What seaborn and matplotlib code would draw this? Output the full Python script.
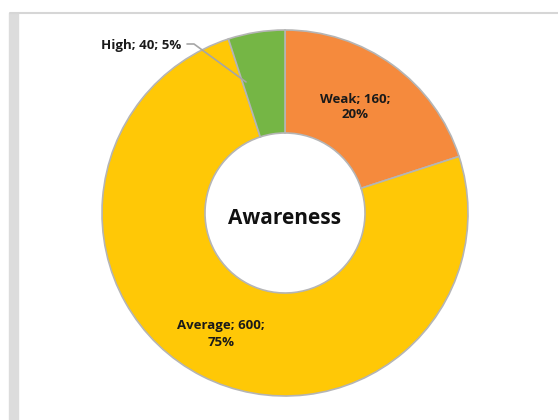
import matplotlib
matplotlib.use("Agg")
import matplotlib.pyplot as plt
from matplotlib.patches import Rectangle
import seaborn as sns

categories = ["Weak", "Average", "High"]
values = [160, 600, 40]
percents = ["20%", "75%", "5%"]
colors = ["#F58A3D", "#FFC806", "#75B645"]

sns.set_theme(style="white")
plt.rcParams["font.family"] = ["Open Sans", "DejaVu Sans"]

W, H = 558, 420
fig = plt.figure(figsize=(W / 100, H / 100), dpi=100)
ax = fig.add_axes([0, 0, 1, 1])

# chart area frame with a shaded left edge
ax.add_patch(Rectangle((9, 0), 9, H - 13, color="#dcdcdc", zorder=0))
ax.plot([10, W], [H - 13, H - 13], color="#d6d6d6", lw=1.5, zorder=0)

cx, cy, r_out, ring = 285, 207, 183, 103
wedges, _ = ax.pie(
    values,
    colors=colors,
    startangle=90,
    counterclock=False,
    center=(cx, cy),
    radius=r_out,
    wedgeprops=dict(width=ring, edgecolor="#b5b5b5", linewidth=1.2),
    frame=True,
)
ax.set_xlim(0, W)
ax.set_ylim(0, H)
ax.axis("off")

font = dict(fontsize=9.5, fontweight="bold", color="#1a1a1a", ha="center", va="center")
ax.text(355, H - 107, f"{categories[0]}; {values[0]};\n{percents[0]}", linespacing=1.3, **font)
ax.text(221, H - 334, f"{categories[1]}; {values[1]};\n{percents[1]}", linespacing=1.3, **font)
ax.text(141, H - 45, f"{categories[2]}; {values[2]}; {percents[2]}", **font)
ax.plot([187, 194, 246], [H - 44, H - 44, H - 82], color="#a6a6a6", lw=1.2)

ax.text(cx, cy - 6, "Awareness", fontsize=15, fontweight="bold", color="#111111",
        ha="center", va="center")

fig.savefig("out.png", dpi=100)
